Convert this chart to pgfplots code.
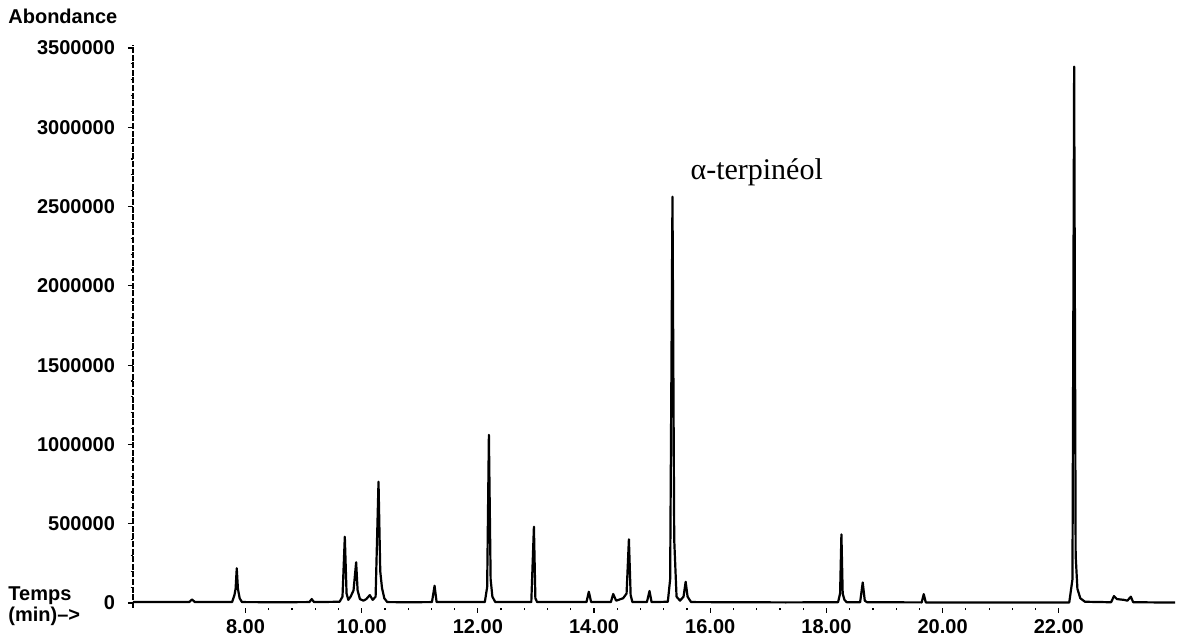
\documentclass[border=0pt]{standalone}
\usepackage{pgfplots}
\pgfplotsset{compat=1.18}
\usepackage{fontspec}
\setmainfont{Liberation Sans}
\newfontfamily\seriffont{Liberation Serif}
\begin{document}
\begin{tikzpicture}
\useasboundingbox (-66.5pt,-16.1pt) rectangle (527.5pt,303.9pt);
\begin{axis}[
  scale only axis, width=521pt, height=281.5pt,
  xmin=6.064, xmax=24, ymin=-30000, ymax=3520000,
  axis x line*=bottom, axis y line*=left,
  x axis line style={draw=none},
  y axis line style={line width=0.6pt, -, dash pattern=on 3pt off 0.8pt},
  tick align=outside,
  major tick length=2.5pt, minor tick length=1.2pt,
  every tick/.style={black, line width=0.6pt},
  xtick={8,10,12,14,16,18,20,22},
  xticklabels={8.00,10.00,12.00,14.00,16.00,18.00,20.00,22.00},
  minor x tick num=4,
  ytick={0,500000,1000000,1500000,2000000,2500000,3000000,3500000},
  yticklabels={0,500000,1000000,1500000,2000000,2500000,3000000,3500000},
  minor y tick num=4,
  scaled y ticks=false,
  tick label style={font=\bfseries\fontsize{10}{12}\selectfont},
  yticklabel style={xshift=-3pt},
  clip=false,
]
\addplot[black, line width=1.1pt, line join=round] coordinates {
(6.064,6000) (6.6,6500) (7.03,6000) (7.08,22000) (7.13,6000)
(7.77,6000) (7.81,50000) (7.83,90000) (7.85,219000) (7.87,90000) (7.90,30000) (7.94,6000)
(8.6,5000) (9.10,6000) (9.14,25000) (9.18,6000)
(9.62,8000) (9.67,40000) (9.71,418000) (9.74,60000) (9.77,20000) (9.81,40000) (9.86,80000) (9.905,257000) (9.93,80000) (9.97,25000) (10.03,15000) (10.08,25000) (10.14,50000) (10.19,20000) (10.24,40000) (10.29,765000) (10.32,200000) (10.35,95000) (10.39,30000) (10.44,6000)
(10.8,5000) (11.21,6000) (11.255,109000) (11.29,6000)
(12.12,6000) (12.16,100000) (12.19,1060000) (12.22,150000) (12.25,40000) (12.30,6000)
(12.92,6000) (12.965,481000) (12.99,30000) (13.02,6000)
(13.87,6000) (13.91,71000) (13.95,6000)
(14.29,6000) (14.33,57000) (14.38,15000) (14.50,30000) (14.56,60000) (14.60,402000) (14.63,50000) (14.66,6000)
(14.91,6000) (14.955,76000) (14.99,6000)
(15.27,8000) (15.31,150000) (15.35,2562000) (15.38,400000) (15.42,40000) (15.48,15000) (15.54,40000) (15.577,134000) (15.61,40000) (15.67,6000)
(16.5,5000) (17.3,4000) (18.20,5000) (18.235,60000) (18.258,433000) (18.28,60000) (18.31,20000) (18.35,5000)
(18.58,5000) (18.625,130000) (18.66,15000) (18.70,5000)
(19.64,4000) (19.675,56000) (19.71,4000)
(20.8,4000) (22.18,4000) (22.235,150000) (22.264,3382000) (22.29,300000) (22.32,90000) (22.37,30000) (22.45,8000)
(22.90,5000) (22.95,44000) (23.0,25000) (23.12,20000) (23.18,15000) (23.24,40000) (23.28,5000)
(24.0,3000)
};
\node[font=\seriffont\fontsize{15}{18}\selectfont] at (axis cs:16.80,2718000) {α-terpinéol};
\end{axis}
\node[anchor=north west, inner sep=0pt, font=\bfseries\fontsize{10}{12}\selectfont] at (-62.5pt,299.4pt) {Abondance};
\node[anchor=north west, inner sep=0pt, align=left, font=\bfseries\fontsize{10}{10.5}\selectfont] at (-62.5pt,10.9pt) {Temps\\(min)-->};
\end{tikzpicture}
\end{document}
